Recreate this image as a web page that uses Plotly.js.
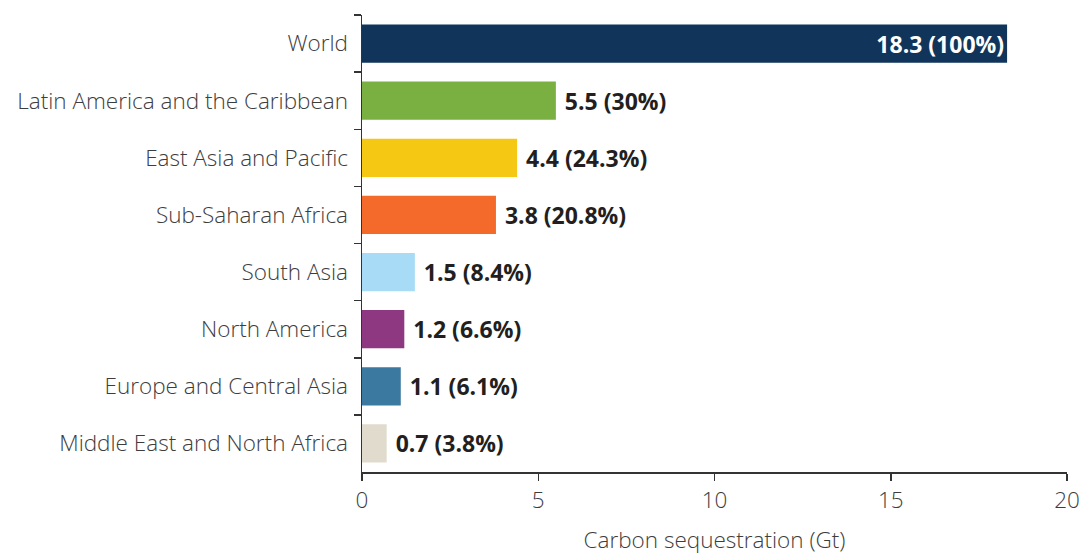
<!DOCTYPE html>
<html>
<head>
<meta charset="utf-8">
<script src="https://cdn.plot.ly/plotly-3.0.1.min.js"></script>
<style>html,body{margin:0;padding:0;background:#fff;}#chart{width:1082px;height:555px;}</style>
</head>
<body>
<div id="chart"></div>
<script>
const regions = ["World","Latin America and the Caribbean","East Asia and Pacific","Sub-Saharan Africa","South Asia","North America","Europe and Central Asia","Middle East and North Africa"];
const values = [18.3, 5.5, 4.4, 3.8, 1.5, 1.2, 1.1, 0.7];
const shares = ["100%","30%","24.3%","20.8%","8.4%","6.6%","6.1%","3.8%"];
const colors = ["#11355a","#7ab041","#f5c813","#f36a2a","#a8dcf6","#8d3881","#3c79a0","#e0dbcd"];

const labels = values.map((v,i)=> "\u00a0" + v.toFixed(1) + " (" + shares[i] + ")");
const positions = values.map((v,i)=> i===0 ? "inside" : "outside");

const labelFont = "'Open Sans', Lato, sans-serif";

const trace = {
  type: "bar",
  orientation: "h",
  x: values,
  y: regions,
  marker: {color: colors},
  text: labels,
  textposition: positions,
  insidetextanchor: "end",
  outsidetextfont: {family: labelFont, size: 23, weight: 700, color: "#231f20"},
  insidetextfont: {family: labelFont, size: 23, weight: 700, color: "#ffffff"},
  cliponaxis: false,
  hoverinfo: "none"
};

const tickFont = {family: labelFont, size: 22.5, color: "#3d3d3d", weight: 300};

const layout = {
  width: 1082,
  height: 555,
  margin: {l: 362, r: 15, t: 15, b: 83},
  paper_bgcolor: "#fff",
  plot_bgcolor: "#fff",
  showlegend: false,
  bargap: 0.33,
  font: tickFont,
  xaxis: {
    range: [0, 20],
    tickvals: [0,5,10,15,20],
    showgrid: false,
    zeroline: false,
    showline: true,
    linecolor: "#333",
    linewidth: 1.5,
    ticks: "outside",
    ticklen: 7,
    tickcolor: "#333",
    tickwidth: 1.5,
    tickfont: tickFont,
    title: {text: "Carbon sequestration (Gt)", font: tickFont, standoff: 26}
  },
  yaxis: {
    autorange: "reversed",
    type: "category",
    showgrid: false,
    zeroline: false,
    showline: true,
    linecolor: "#333",
    linewidth: 1.5,
    ticks: "outside",
    tickson: "boundaries",
    ticklen: 7,
    tickcolor: "#333",
    tickwidth: 1.5,
    tickfont: tickFont,
    ticklabelstandoff: 8
  }
};

Plotly.newPlot("chart", [trace], layout, {displayModeBar: false, staticPlot: true});
</script>
</body>
</html>
